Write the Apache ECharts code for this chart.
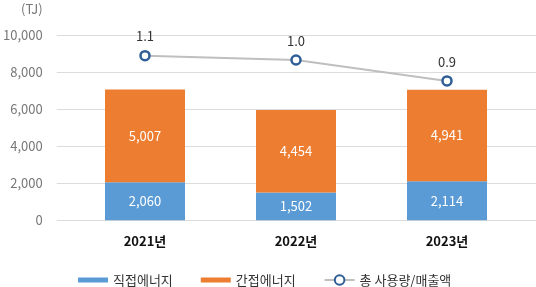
<!DOCTYPE html>
<html><head><meta charset="utf-8">
<script src="https://cdn.jsdelivr.net/npm/echarts@6/dist/echarts.min.js"></script>
<style>html,body{margin:0;padding:0;background:#fff}#c{width:536px;height:287px}</style>
</head><body><div id="c"></div>
<script>
const categories = ['2021년', '2022년', '2023년'];
const directEnergy = [2060, 1502, 2114];
const indirectEnergy = [5007, 4454, 4941];
const usagePerSales = [1.068, 1.040, 0.904];
const yTicks = [0, 2000, 4000, 6000, 8000, 10000];

const FONT = '"Noto Sans CJK KR", "Noto Sans", sans-serif';
const fmt = v => v.toLocaleString('en-US');
const chart = echarts.init(document.getElementById('c'), null, {renderer: 'canvas'});
const gTop = 35.3, gBottom = 287 - 220.3;
const barIcon = 'path://M0,0H30V5H0Z';
chart.setOption({
  animation: false,
  textStyle: {fontFamily: FONT},
  grid: [
    {left: 69.5, width: 453, top: gTop, bottom: gBottom},
    {left: 56, right: 0, top: gTop, bottom: gBottom}
  ],
  legend: {
    left: 78, top: 273, padding: 0, itemGap: 28, itemWidth: 30, itemHeight: 12,
    symbolKeepAspect: true,
    textStyle: {fontSize: 13, color: '#333', fontFamily: FONT, lineHeight: 14},
    data: [
      {name: '직접에너지', icon: barIcon},
      {name: '간접에너지', icon: barIcon},
      {name: '총 사용량/매출액'}
    ]
  },
  xAxis: [
    {type: 'category', data: categories, gridIndex: 0,
     axisLine: {show: false}, axisTick: {show: false},
     axisLabel: {fontSize: 13, fontWeight: 'bold', color: '#111', margin: 14, fontFamily: FONT}},
    {type: 'category', data: categories, gridIndex: 1, show: false}
  ],
  yAxis: [
    {type: 'value', gridIndex: 0, min: 0, max: 10000, interval: 2000, show: false},
    {type: 'value', gridIndex: 0, min: 0, max: 1.2, show: false},
    {type: 'value', gridIndex: 1, min: yTicks[0], max: yTicks[yTicks.length - 1], interval: 2000,
     name: '(TJ)', nameLocation: 'end', nameGap: 20,
     nameTextStyle: {color: '#777', fontSize: 13, align: 'right', padding: [0, 14, 0, 0], fontFamily: FONT},
     axisLine: {show: false}, axisTick: {show: false},
     splitLine: {lineStyle: {color: '#dcdcdc', width: 1}},
     axisLabel: {color: '#777', fontSize: 13, margin: 14, formatter: v => fmt(v), fontFamily: FONT}}
  ],
  series: [
    {name: '직접에너지', type: 'bar', stack: 'e', data: directEnergy, barWidth: 80,
     itemStyle: {color: '#5b9bd5'},
     label: {show: true, position: 'inside', color: '#fff', fontSize: 13, formatter: p => fmt(p.value), fontFamily: FONT}},
    {name: '간접에너지', type: 'bar', stack: 'e', data: indirectEnergy, barWidth: 80,
     itemStyle: {color: '#ed7d31'},
     label: {show: true, position: 'inside', color: '#fff', fontSize: 13, formatter: p => fmt(p.value), fontFamily: FONT}},
    {name: '총 사용량/매출액', type: 'line', yAxisIndex: 1, data: usagePerSales,
     symbol: 'circle', symbolSize: 9,
     lineStyle: {color: '#bfbfbf', width: 2},
     itemStyle: {color: '#fff', borderColor: '#2f5d95', borderWidth: 2.5},
     label: {show: true, position: 'top', distance: 7, color: '#333', fontSize: 13, formatter: p => p.value.toFixed(1), fontFamily: FONT}}
  ]
});
</script></body></html>
